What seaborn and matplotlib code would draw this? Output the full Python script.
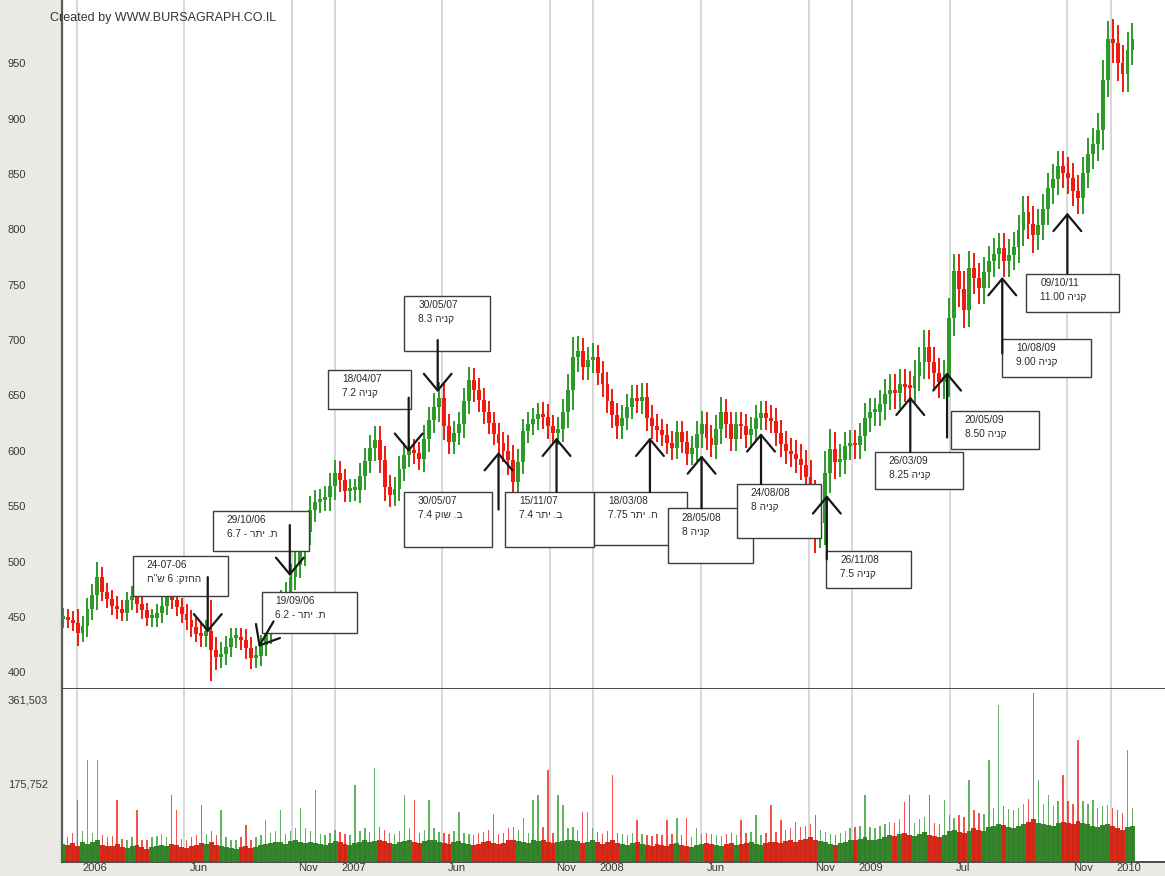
import numpy as np
import pandas as pd
import matplotlib
matplotlib.use("Agg")
import matplotlib.pyplot as plt
import matplotlib.dates as mdates
import matplotlib.transforms as mtransforms
from matplotlib.patches import Rectangle
import seaborn as sns

# ---------------- data (weekly) ----------------
week_start = "2005-12-12"
first_open = 448
close = [450, 447, 445, 436, 442, 457, 470, 486, 473, 466,
         460, 457, 454, 465, 469, 462, 456, 449, 449, 454,
         460, 468, 465, 459, 453, 447, 441, 435, 433, 437,
         420, 414, 417, 423, 431, 431, 429, 422, 413, 415,
         425, 436, 450, 457, 464, 471, 486, 497, 509, 527,
         547, 554, 556, 558, 568, 580, 574, 564, 565, 565,
         577, 591, 603, 610, 592, 567, 560, 566, 584, 596,
         601, 598, 593, 611, 628, 640, 648, 622, 608, 616,
         624, 645, 664, 655, 646, 635, 625, 615, 607, 600,
         592, 572, 590, 618, 624, 629, 633, 631, 622, 616,
         620, 635, 655, 685, 690, 676, 682, 685, 670, 660,
         645, 632, 622, 630, 640, 648, 645, 649, 630, 622,
         619, 614, 607, 603, 617, 608, 597, 603, 615, 624,
         612, 605, 620, 635, 624, 611, 624, 622, 614, 620,
         630, 634, 630, 627, 616, 606, 600, 597, 593, 587,
         576, 552, 530, 535, 580, 602, 590, 592, 604, 607,
         605, 613, 630, 635, 635, 642, 651, 655, 652, 660,
         658, 657, 668, 680, 694, 680, 670, 662, 667, 720,
         762, 746, 727, 765, 756, 747, 761, 771, 778, 783,
         771, 777, 784, 799, 816, 805, 795, 804, 818, 837,
         845, 857, 851, 846, 835, 828, 851, 868, 877, 890,
         935, 972, 968, 950, 940, 962, 972]
wick = [8, 7, 8, 12, 9, 10, 10, 14, 9, 8,
        8, 9, 8, 8, 9, 8, 8, 7, 8, 8,
        9, 8, 8, 8, 8, 9, 9, 8, 10, 10,
        28, 12, 10, 10, 9, 9, 9, 10, 10, 9,
        9, 10, 10, 10, 10, 11, 12, 12, 12, 13,
        12, 11, 10, 10, 12, 12, 11, 10, 10, 10,
        12, 12, 11, 12, 12, 12, 11, 10, 11, 11,
        11, 10, 10, 12, 12, 12, 14, 12, 11, 11,
        11, 12, 12, 11, 11, 11, 10, 10, 10, 10,
        14, 13, 12, 11, 11, 10, 10, 11, 11, 10,
        11, 12, 14, 18, 14, 12, 12, 12, 11, 11,
        11, 11, 11, 11, 11, 11, 11, 12, 12, 11,
        11, 10, 10, 11, 10, 10, 10, 10, 12, 12,
        11, 11, 12, 14, 12, 11, 11, 11, 11, 11,
        11, 11, 11, 11, 12, 12, 12, 12, 13, 13,
        14, 16, 22, 18, 20, 18, 15, 14, 13, 12,
        12, 12, 13, 13, 13, 13, 14, 14, 14, 14,
        14, 14, 14, 14, 15, 15, 14, 14, 15, 18,
        16, 16, 16, 15, 14, 14, 14, 14, 14, 14,
        14, 14, 14, 14, 14, 14, 16, 14, 14, 14,
        14, 14, 14, 14, 14, 14, 14, 14, 14, 15,
        18, 16, 18, 16, 16, 16, 14]
# volume in thousands: typical daily level and the week's largest day
vol_base = [40, 38, 42, 35, 45, 40, 44, 48, 38, 36,
            35, 40, 34, 32, 36, 38, 33, 30, 34, 36,
            38, 35, 40, 37, 33, 31, 35, 38, 42, 40,
            45, 38, 36, 34, 32, 30, 33, 35, 31, 34,
            38, 40, 42, 45, 44, 40, 46, 48, 44, 42,
            45, 43, 40, 38, 42, 46, 44, 40, 38, 42,
            45, 48, 44, 46, 50, 47, 42, 40, 44, 46,
            48, 45, 42, 46, 50, 48, 44, 42, 40, 44,
            46, 42, 40, 38, 41, 44, 46, 43, 40, 42,
            48, 50, 46, 44, 42, 48, 46, 50, 45, 42,
            44, 46, 48, 50, 46, 42, 45, 48, 44, 40,
            44, 48, 42, 40, 38, 42, 44, 40, 38, 36,
            40, 38, 36, 40, 42, 38, 36, 34, 38, 40,
            42, 40, 38, 36, 40, 42, 38, 40, 42, 44,
            40, 38, 42, 45, 44, 42, 46, 48, 45, 50,
            52, 55, 50, 46, 44, 40, 38, 42, 45, 48,
            50, 52, 55, 50, 48, 52, 56, 60, 58, 62,
            65, 60, 58, 62, 66, 60, 58, 55, 60, 70,
            72, 68, 65, 70, 75, 72, 70, 78, 80, 85,
            82, 78, 75, 80, 85, 90, 95, 88, 85, 82,
            80, 86, 90, 88, 85, 92, 88, 84, 80, 78,
            82, 85, 80, 76, 72, 78, 80]
vol_peak = [60, 55, 65, 138, 70, 228, 65, 228, 60, 55,
            58, 138, 52, 50, 55, 116, 50, 48, 55, 58,
            62, 55, 150, 116, 52, 50, 55, 60, 127, 62,
            70, 60, 116, 55, 50, 48, 55, 83, 50, 55,
            60, 94, 65, 70, 116, 62, 70, 75, 120, 76,
            70, 161, 62, 60, 65, 72, 68, 62, 60, 172,
            70, 75, 68, 210, 78, 72, 65, 62, 70, 150,
            75, 138, 65, 72, 138, 75, 68, 65, 62, 70,
            112, 65, 62, 60, 65, 68, 72, 107, 62, 65,
            75, 78, 72, 98, 65, 138, 150, 78, 205, 65,
            150, 127, 75, 78, 72, 112, 112, 75, 68, 62,
            70, 194, 65, 62, 60, 65, 94, 62, 60, 58,
            62, 60, 94, 62, 98, 60, 98, 55, 76, 62,
            65, 62, 60, 58, 62, 65, 60, 94, 65, 68,
            105, 60, 65, 127, 68, 94, 72, 75, 89, 78,
            80, 85, 105, 72, 68, 62, 60, 65, 70, 75,
            78, 80, 150, 78, 75, 80, 85, 90, 88, 95,
            134, 150, 88, 95, 100, 150, 88, 85, 138, 105,
            98, 105, 100, 183, 115, 110, 108, 228, 120, 350,
            125, 118, 115, 120, 130, 140, 377, 183, 130, 150,
            125, 135, 194, 135, 130, 272, 135, 130, 138, 120,
            125, 127, 120, 115, 110, 250, 120]

tick_dates = ["2006-01-01", "2006-06-01", "2006-11-01", "2007-01-01", "2007-06-01",
              "2007-11-01", "2008-01-01", "2008-06-01", "2008-11-01", "2009-01-01",
              "2009-05-19", "2009-11-01", "2010-01-01"]
tick_labels = ["2006", "Jun", "Nov", "2007", "Jun", "Nov", "2008", "Jun", "Nov",
               "2009", "Jul", "Nov", "2010"]
price_ticks = [400, 450, 500, 550, 600, 650, 700, 750, 800, 850, 900, 950]
vol_ticks = [175752, 361503]
vol_tick_labels = ["175,752", "361,503"]

# annotation notes (Hebrew typed in visual left-to-right order, as drawn in the picture)
note_titles = ["24-07-06", "29/10/06", "19/09/06", "18/04/07", "30/05/07",
               "30/05/07", "15/11/07", "18/03/08", "28/05/08", "24/08/08",
               "26/11/08", "26/03/09", "20/05/09", "10/08/09", "09/10/11"]
note_texts = ['ח"ש 6 :קזחה', "6.7 - רתי .ת", "6.2 - רתי .ת", "7.2 הינק", "8.3 הינק",
              "7.4 קוש .ב", "7.4 רתי .ב", "7.75 רתי .ח", "8 הינק", "8 הינק",
              "7.5 הינק", "8.25 הינק", "8.50 הינק", "9.00 הינק", "11.00 הינק"]
tip_dates = ["2006-07-05", "2006-10-29", "2006-09-15", "2007-04-15", "2007-05-26",
             "2007-08-20", "2007-11-10", "2008-03-21", "2008-06-02", "2008-08-25",
             "2008-11-26", "2009-03-24", "2009-05-15", "2009-08-01", "2009-11-01"]
tip_prices = [436, 487, 423, 599, 653, 599, 612, 612, 596, 616, 560, 649, 671, 757, 815]
tail_dates = ["2006-07-05", "2006-10-29", "2006-10-06", "2007-04-15", "2007-05-26",
              "2007-08-20", "2007-11-10", "2008-03-21", "2008-06-02", "2008-08-25",
              "2008-11-26", "2009-03-24", "2009-05-15", "2009-08-01", "2009-11-01"]
tail_prices = [486, 533, 446, 648, 700, 547, 563, 563, 548, 570, 502, 599, 612, 688, 760]
box_left = ["2006-03-21", "2006-07-12", "2006-09-19", "2006-12-22", "2007-04-09",
            "2007-04-08", "2007-08-29", "2008-01-02", "2008-04-15", "2008-07-22",
            "2008-11-25", "2009-02-02", "2009-05-20", "2009-08-01", "2009-09-04"]
box_right = ["2006-08-02", "2006-11-25", "2007-02-01", "2007-04-18", "2007-08-08",
             "2007-08-11", "2008-01-02", "2008-05-12", "2008-08-14", "2008-11-18",
             "2009-03-25", "2009-06-06", "2009-09-22", "2009-12-05", "2010-01-13"]
box_top = [505, 546, 473, 673, 740, 563, 563, 563, 548, 570, 510, 599, 636, 701, 760]
box_bottom = [469, 510, 436, 638, 690, 513, 513, 515, 499, 521, 476, 566, 602, 667, 725]

# ---------------- build frame ----------------
dates = pd.date_range(week_start, periods=len(close), freq="7D")
opens = [first_open] + close[:-1]
df = pd.DataFrame({"date": dates, "open": opens, "close": close, "wick": wick,
                   "vbase": vol_base, "vpeak": vol_peak})
df["top"] = df[["open", "close"]].max(axis=1)
df["bot"] = df[["open", "close"]].min(axis=1)
df["high"] = df["top"] + df["wick"]
df["low"] = df["bot"] - df["wick"]
df["up"] = df["close"] >= df["open"]
RED, GREEN = "#f01a10", "#2e9a2a"
VRED, VGREEN = "#d2200e", "#2b7f22"
df["col"] = np.where(df["up"], GREEN, RED)
df["vcol"] = np.where(df["up"], VGREEN, VRED)

# ---------------- style ----------------
sns.set_theme(style="white")
plt.rcParams["font.family"] = ["Liberation Sans", "DejaVu Sans"]

W, H = 1165, 876
fig = plt.figure(figsize=(W / 100, H / 100), dpi=100, facecolor="#e9e9e5")
ax = fig.add_axes([62 / W, (H - 689) / H, 1 - 62 / W, 689 / H])
ax2 = fig.add_axes([62 / W, (H - 862) / H, 1 - 62 / W, (862 - 689) / H], sharex=ax)
for a in (ax, ax2):
    a.set_facecolor("white")

# candles
ax.vlines(df["date"], df["low"], df["high"], colors=df["col"], lw=1.4, zorder=2)
ax.bar(df["date"], (df["top"] - df["bot"]).clip(lower=2.5), bottom=df["bot"],
       width=5.5, color=df["col"], lw=0, zorder=3)

# volume
ax2.bar(df["date"], df["vpeak"] * 1000, width=2.0, color=df["col"], alpha=0.75, lw=0, zorder=2)
ax2.bar(df["date"], df["vbase"] * 1000, width=7.0, color=df["vcol"], alpha=0.95, lw=0, zorder=3)

# axes limits / ticks
ax.set_xlim(pd.Timestamp("2005-12-11"), pd.Timestamp("2010-03-19"))
ax.set_ylim(385, 1007)
ax2.set_ylim(0, 386000)

tpos = pd.to_datetime(tick_dates)
for a in (ax, ax2):
    a.set_xticks(tpos)
    a.grid(axis="x", color="#d4d4d4", lw=1.3, zorder=0)
    a.grid(axis="y", visible=False)
    a.set_axisbelow(True)
ax2.set_xticklabels(tick_labels)
ax.tick_params(axis="x", labelbottom=False, length=0)
ax2.tick_params(axis="x", length=0, pad=1, labelsize=8, colors="#3a3a3a")
shift = mtransforms.ScaledTranslation(6 / 100, 0, fig.dpi_scale_trans)
for lab in ax2.get_xticklabels():
    lab.set_ha("left")
    lab.set_transform(lab.get_transform() + shift)

ax.set_yticks(price_ticks)
ax.set_yticklabels([str(v) for v in price_ticks])
ax2.set_yticks(vol_ticks)
ax2.set_yticklabels(vol_tick_labels)
for a in (ax, ax2):
    a.tick_params(axis="y", length=0, pad=39, labelsize=8, colors="#3a3a3a")
    for lab in a.get_yticklabels():
        lab.set_ha("left")

for a in (ax, ax2):
    for s in ("top", "right"):
        a.spines[s].set_visible(False)
    a.spines["left"].set_color("#5a5a5a")
    a.spines["left"].set_linewidth(1.6)
    a.spines["bottom"].set_color("#4a4a4a")
    a.spines["bottom"].set_linewidth(1.4)
ax.set_xlabel("")
ax2.set_xlabel("")

# annotation boxes and arrows
for i in range(len(note_titles)):
    l = mdates.date2num(pd.Timestamp(box_left[i]))
    r = mdates.date2num(pd.Timestamp(box_right[i]))
    ax.add_patch(Rectangle((l, box_bottom[i]), r - l, box_top[i] - box_bottom[i],
                           facecolor="white", edgecolor="#3c3c3c", lw=1.0, zorder=5))
    ax.annotate(f"{note_titles[i]}\n{note_texts[i]}", xy=(l, box_top[i]),
                xytext=(10, -3), textcoords="offset points", ha="left", va="top",
                fontsize=7.3, color="#2a2a2a", linespacing=1.5, zorder=6)
    ax.annotate("", xy=(pd.Timestamp(tip_dates[i]), tip_prices[i]),
                xytext=(pd.Timestamp(tail_dates[i]), tail_prices[i]),
                arrowprops=dict(arrowstyle="->,head_length=0.6,head_width=0.5",
                                lw=1.6, color="#161616", shrinkA=0, shrinkB=0,
                                mutation_scale=20),
                zorder=7)

fig.text(50 / W, 1 - 18 / H, "Created by WWW.BURSAGRAPH.CO.IL", fontsize=9,
         color="#333333", va="center", ha="left")

fig.savefig("out.png", dpi=100, facecolor=fig.get_facecolor())
